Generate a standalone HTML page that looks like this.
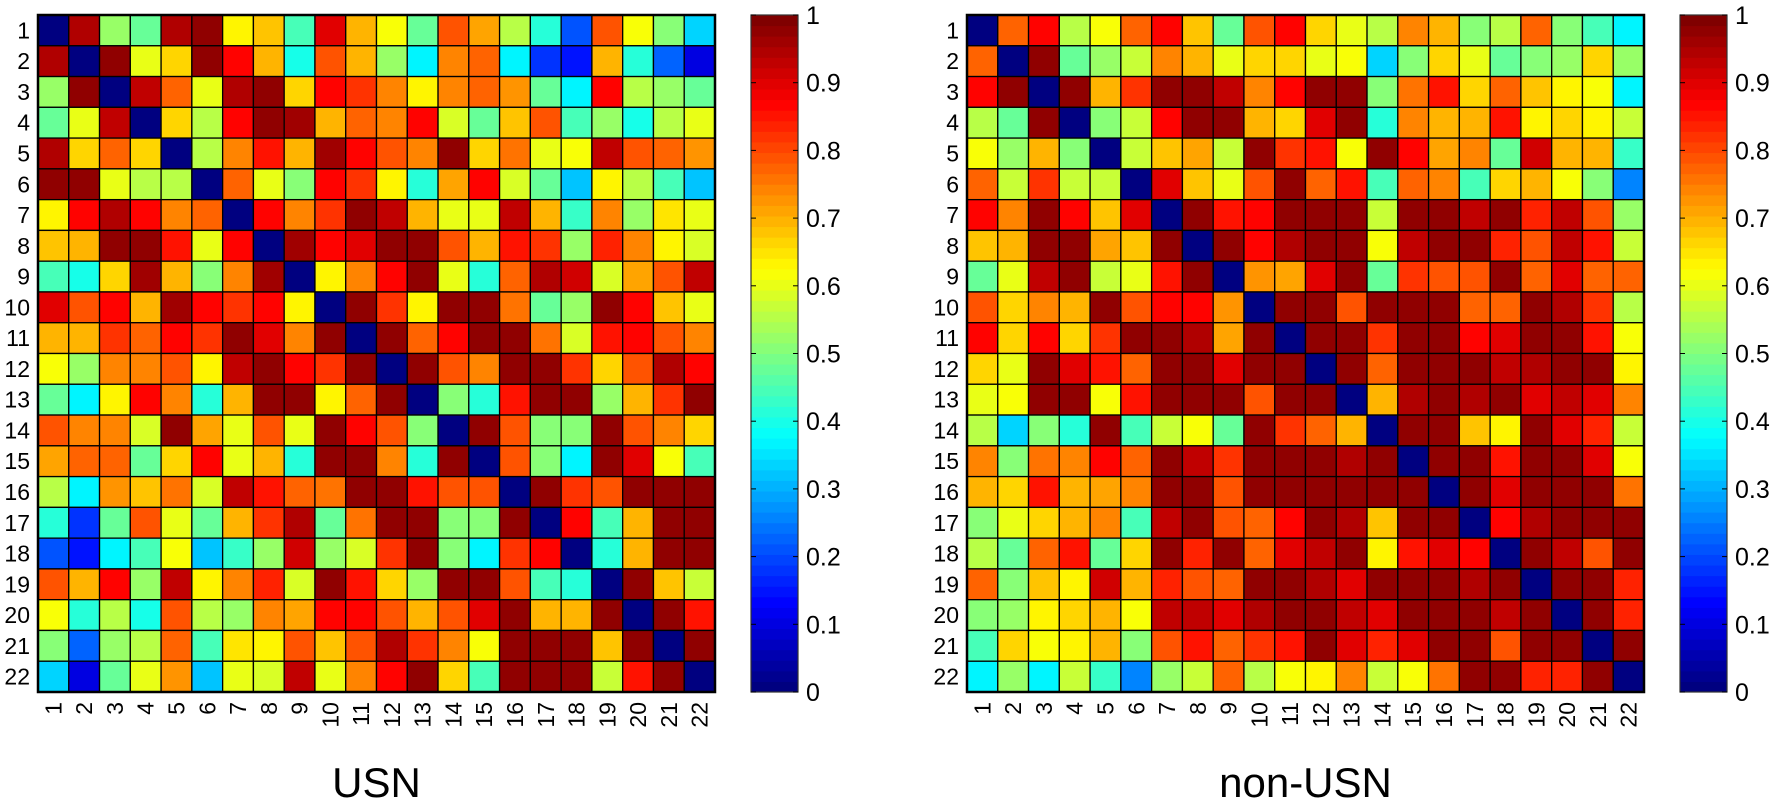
<!DOCTYPE html>
<html><head><meta charset="utf-8"><style>
html,body{margin:0;padding:0;background:#fff;}
svg{display:block;font-family:"Liberation Sans",Arial,sans-serif;}
</style></head><body>
<svg id="chart" width="1772" height="805" viewBox="0 0 1772 805" xmlns="http://www.w3.org/2000/svg"></svg>
<script>
const labels = ["1","2","3","4","5","6","7","8","9","10","11","12","13","14","15","16","17","18","19","20","21","22"];
const colorbarTicks = [0,0.1,0.2,0.3,0.4,0.5,0.6,0.7,0.8,0.9,1];
const colorbarTickLabels = ["0","0.1","0.2","0.3","0.4","0.5","0.6","0.7","0.8","0.9","1"];
// upper triangles (row i, columns i+1..22); matrices are symmetric, diagonal = 0
const usnUpper = [
[.95,.52,.47,.95,.98,.63,.68,.45,.9,.7,.62,.48,.8,.71,.55,.42,.2,.8,.62,.5,.33],
[.98,.6,.66,.98,.87,.7,.4,.8,.7,.52,.37,.75,.77,.37,.17,.15,.7,.42,.22,.1],
[.93,.78,.6,.95,.98,.66,.87,.83,.74,.63,.75,.78,.73,.48,.37,.87,.55,.53,.47],
[.66,.55,.87,.98,.97,.7,.77,.74,.87,.58,.47,.68,.8,.45,.53,.4,.55,.6],
[.55,.74,.85,.7,.97,.87,.79,.75,.98,.66,.76,.6,.62,.93,.8,.78,.73],
[.78,.6,.5,.88,.83,.63,.42,.72,.88,.58,.47,.32,.63,.55,.45,.32],
[.87,.75,.83,.98,.93,.7,.6,.6,.93,.7,.43,.74,.53,.65,.6],
[.97,.87,.9,.98,.98,.8,.7,.85,.82,.52,.84,.74,.63,.58],
[.63,.74,.88,.98,.6,.42,.78,.95,.92,.58,.72,.8,.93],
[.98,.82,.63,.98,.98,.76,.48,.52,.98,.88,.68,.6],
[.98,.77,.88,.98,.98,.76,.58,.86,.87,.8,.75],
[.98,.8,.74,.98,.98,.82,.67,.8,.95,.87],
[.5,.42,.85,.98,.98,.52,.7,.83,.98],
[.98,.8,.5,.5,.98,.8,.74,.66],
[.8,.5,.37,.98,.9,.62,.45],
[.98,.83,.8,.98,.98,.98],
[.88,.45,.7,.98,.98],
[.42,.7,.98,.98],
[.98,.68,.57],
[.98,.85],
[.98]
];
const nonUsnUpper = [
[.78,.87,.55,.62,.78,.87,.68,.47,.8,.88,.66,.6,.56,.74,.7,.5,.56,.77,.5,.45,.37],
[.98,.47,.52,.57,.74,.7,.6,.66,.66,.6,.62,.33,.5,.67,.6,.47,.5,.53,.66,.53],
[.98,.7,.82,.98,.98,.93,.75,.87,.98,.98,.5,.76,.85,.66,.77,.68,.63,.62,.37],
[.5,.57,.87,.98,.98,.7,.66,.9,.98,.42,.74,.7,.7,.86,.64,.67,.64,.57],
[.57,.68,.72,.57,.98,.82,.86,.62,.98,.87,.72,.75,.48,.92,.7,.7,.43],
[.9,.68,.6,.8,.98,.78,.86,.45,.77,.74,.45,.67,.7,.62,.5,.25],
[.98,.86,.87,.98,.98,.98,.57,.98,.98,.93,.98,.84,.93,.8,.53],
[.98,.88,.95,.98,.98,.62,.93,.98,.98,.84,.8,.93,.86,.57],
[.73,.72,.9,.98,.48,.83,.8,.8,.98,.78,.9,.78,.77],
[.98,.98,.8,.98,.98,.98,.77,.77,.98,.95,.83,.55],
[.98,.98,.82,.98,.98,.87,.9,.98,.98,.85,.62],
[.98,.78,.98,.98,.98,.93,.96,.98,.98,.64],
[.7,.95,.98,.96,.98,.9,.93,.9,.74],
[.98,.98,.68,.64,.98,.9,.84,.57],
[.98,.98,.86,.98,.98,.9,.62],
[.98,.9,.98,.98,.98,.76],
[.88,.95,.98,.98,.98],
[.98,.93,.8,.98],
[.98,.98,.84],
[.98,.84],
[.98]
];

const NS = "http://www.w3.org/2000/svg";
const svg = document.getElementById('chart');
function mk(tag, attrs, parent){const e=document.createElementNS(NS,tag);for(const k in attrs)e.setAttribute(k,attrs[k]);(parent||svg).appendChild(e);return e;}
function jet(v){
  const q=Math.min(63,Math.max(0,Math.round(v*63)))/63;
  const c=x=>Math.round(255*Math.min(1,Math.max(0,x)));
  return `rgb(${c(1.5-Math.abs(4*q-3))},${c(1.5-Math.abs(4*q-2))},${c(1.5-Math.abs(4*q-1))})`;
}
function full(upper){
  const n=labels.length;const m=[];
  for(let i=0;i<n;i++){m.push(new Array(n).fill(0));}
  for(let i=0;i<n-1;i++)for(let k=0;k<upper[i].length;k++){const j=i+1+k;m[i][j]=upper[i][k];m[j][i]=upper[i][k];}
  return m;
}
function drawPanel(ox, title, upper, name){
  const size=677, top=15, n=labels.length, cs=size/n;
  const g=mk('g',{});
  
  
  const xs=i=>ox+i*cs, ys=i=>top+i*cs;
  const m=full(upper);
  for(let i=0;i<n;i++)for(let j=0;j<n;j++){
    const r=mk('rect',{x:xs(j),y:ys(i),width:cs,height:cs,fill:jet(m[i][j]),stroke:'#000','stroke-width':1.3},g);
    
    
  }
  const b=mk('rect',{x:ox,y:top,width:size,height:size,fill:'none',stroke:'#000','stroke-width':2.5},g);
  
  
  for(let i=0;i<n;i++){
    const t=mk('text',{x:ox-8,y:ys(i)+cs/2+8,'text-anchor':'end','font-size':23},g);
    t.textContent=labels[i];
    
    
    const cx=xs(i)+cs/2+8, cy=top+size+10;
    const u=mk('text',{x:cx,y:cy,'text-anchor':'end','font-size':23,transform:`rotate(-90 ${cx} ${cy})`},g);
    u.textContent=labels[i];
    
    
  }
  const tt=mk('text',{x:ox+size/2,y:797,'text-anchor':'middle','font-size':42},g);
  tt.textContent=title;
  
  
  // colorbar
  const cbx=ox+size+36, cbw=47, cbh=size;
  const cb=mk('g',{},g);
  
  
  const yv=v=>top+cbh*(1-v);
  for(let k=0;k<64;k++){
    mk('rect',{x:cbx,y:yv((k+1)/64),width:cbw,height:cbh/64+0.5,fill:jet(k/63)},cb);
  }
  mk('rect',{x:cbx,y:top,width:cbw,height:cbh,fill:'none',stroke:'#333','stroke-width':1.2},cb);
  colorbarTicks.forEach((v,k)=>{
    mk('line',{x1:cbx,x2:cbx+5,y1:yv(v),y2:yv(v),stroke:'#000','stroke-width':1},cb);
    mk('line',{x1:cbx+cbw-5,x2:cbx+cbw,y1:yv(v),y2:yv(v),stroke:'#000','stroke-width':1},cb);
    const t=mk('text',{x:cbx+cbw+8,y:yv(v)+9,'font-size':25},cb);
    t.textContent=colorbarTickLabels[k];
    
    
  });
}
drawPanel(38,'USN',usnUpper,'usn');
drawPanel(967,'non-USN',nonUsnUpper,'non-usn');
</script>
</body></html>
